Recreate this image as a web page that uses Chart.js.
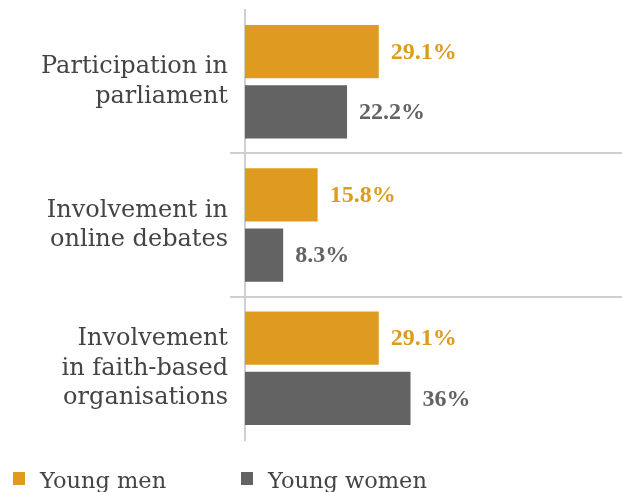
<!DOCTYPE html>
<html>
<head>
<meta charset="utf-8">
<script src="https://cdn.jsdelivr.net/npm/chart.js@4/dist/chart.umd.min.js"></script>
<style>
  html, body { margin: 0; padding: 0; background: #fff; }
  #wrap { width: 622px; height: 492px; }
</style>
</head>
<body>
<div id="wrap"><canvas id="youthChart"></canvas></div>
<script>
'use strict';

// Data
const categories = [
  ['Participation in', 'parliament'],
  ['Involvement in', 'online debates'],
  ['Involvement', 'in faith-based', 'organisations']
];
const seriesNames = ['Young men', 'Young women'];
const youngMen = [29.1, 15.8, 29.1];
const youngWomen = [22.2, 8.3, 36];
const valueLabelsMen = ['29.1%', '15.8%', '29.1%'];
const valueLabelsWomen = ['22.2%', '8.3%', '36%'];

const orange = '#DF9B20';
const grey = '#636363';
const serif = '"DejaVu Serif", "Liberation Serif", serif';

// Draws the bold value text to the right of every bar
const valueLabelPlugin = {
  id: 'valueLabels',
  afterDatasetsDraw(chart) {
    const ctx = chart.ctx;
    const texts = [valueLabelsMen, valueLabelsWomen];
    ctx.save();
    ctx.font = 'bold 24px "Liberation Serif", serif';
    ctx.textBaseline = 'middle';
    ctx.textAlign = 'left';
    chart.data.datasets.forEach((ds, i) => {
      chart.getDatasetMeta(i).data.forEach((bar, j) => {
        ctx.fillStyle = ds.backgroundColor;
        ctx.fillText(texts[i][j], bar.x + 12, bar.y + 1);
      });
    });
    ctx.restore();
  }
};

// Simple legend at the bottom, spaced like the reference
const bottomLegendPlugin = {
  id: 'bottomLegend',
  afterDraw(chart) {
    const ctx = chart.ctx;
    const startX = [13, 241];
    ctx.save();
    ctx.font = '22.5px ' + serif;
    ctx.textBaseline = 'alphabetic';
    ctx.textAlign = 'left';
    chart.data.datasets.forEach((ds, i) => {
      ctx.fillStyle = ds.backgroundColor;
      ctx.fillRect(startX[i], 472, 12, 13);
      ctx.fillStyle = '#444';
      ctx.fillText(ds.label, startX[i] + 27, 488);
    });
    ctx.restore();
  }
};

const ctx = document.getElementById('youthChart').getContext('2d');
new Chart(ctx, {
  type: 'bar',
  data: {
    labels: categories,
    datasets: [
      { label: seriesNames[0], data: youngMen, backgroundColor: orange },
      { label: seriesNames[1], data: youngWomen, backgroundColor: grey }
    ]
  },
  options: {
    indexAxis: 'y',
    responsive: true,
    maintainAspectRatio: false,
    animation: false,
    categoryPercentage: 0.84,
    barPercentage: 0.885,
    layout: { padding: { top: 10, bottom: 52, left: 0, right: 0 } },
    plugins: {
      legend: { display: false },
      tooltip: { enabled: false }
    },
    scales: {
      x: {
        display: false,
        min: 0,
        max: 82
      },
      y: {
        offset: true,
        afterFit(scale) {
          scale.width = 245;
          scale.paddingTop = 0;
          scale.paddingBottom = 0;
        },
        border: { display: true, color: '#cfcfcf', width: 2 },
        grid: {
          offset: true,
          drawOnChartArea: true,
          tickLength: 15,
          lineWidth: 2,
          color(c) {
            // only the separators between groups
            return (c.type !== 'tick' || c.index === 0) ? 'rgba(0,0,0,0)' : '#cfcfcf';
          }
        },
        ticks: {
          padding: 2,
          color: '#444',
          font: { family: serif, size: 24, lineHeight: 1.22 }
        }
      }
    }
  },
  plugins: [valueLabelPlugin, bottomLegendPlugin]
});
</script>
</body>
</html>
